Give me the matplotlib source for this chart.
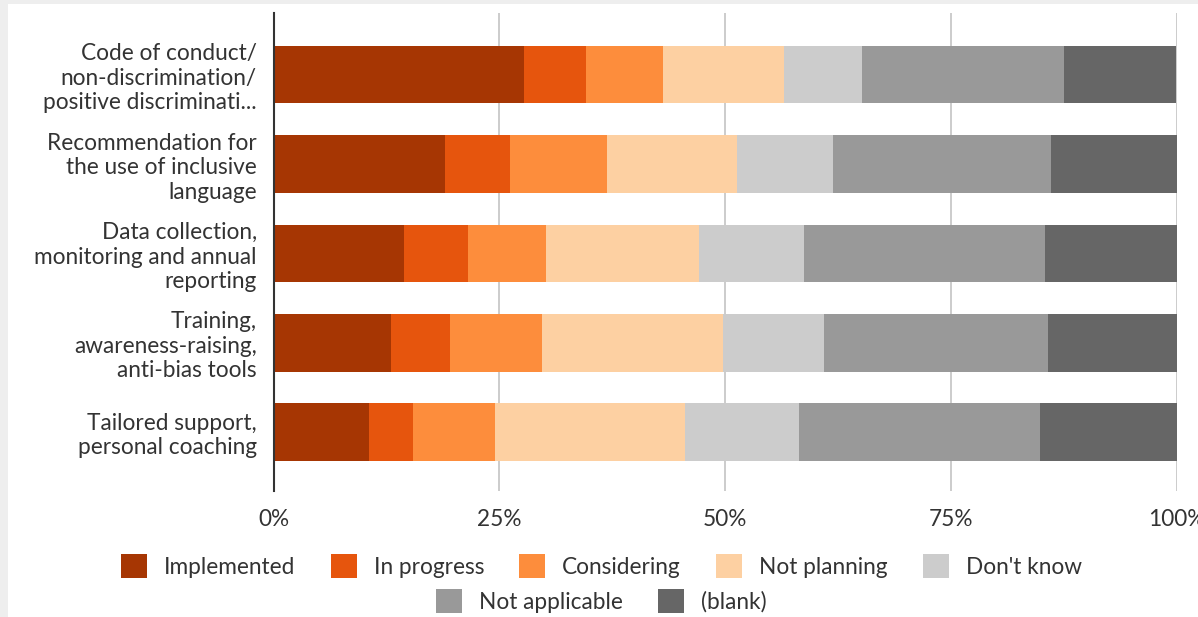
import numpy as np
import matplotlib
matplotlib.use("Agg")
import matplotlib.pyplot as plt
from matplotlib.patches import Rectangle

# ---------------------------------------------------------
# data (percent of respondents per measure)

categories = [
    "Code of conduct/\nnon-discrimination/\npositive discriminati...",
    "Recommendation for\nthe use of inclusive\nlanguage",
    "Data collection,\nmonitoring and annual\nreporting",
    "Training,\nawareness-raising,\nanti-bias tools",
    "Tailored support,\npersonal coaching",
]

implemented = [27.7, 19.0, 14.5, 13.0, 10.6]
in_progress = [6.9, 7.2, 7.0, 6.5, 4.9]
considering = [8.5, 10.7, 8.7, 10.2, 9.0]
not_planning = [13.4, 14.4, 16.9, 20.1, 21.1]
dont_know = [8.7, 10.7, 11.6, 11.2, 12.6]
not_applicable = [22.3, 24.1, 26.7, 24.8, 26.7]
blank = [12.5, 13.9, 14.6, 14.2, 15.1]

series_names = ["Implemented", "In progress", "Considering", "Not planning",
                "Don't know", "Not applicable", "(blank)"]
colors = ["#a63603", "#e6550d", "#fd8d3c", "#fdd0a2",
          "#cccccc", "#999999", "#666666"]

xticks = [0, 25, 50, 75, 100]
xtick_labels = ["0%", "25%", "50%", "75%", "100%"]

# ---------------------------------------------------------

plt.rcParams["font.family"] = ["Lato", "DejaVu Sans"]
text_color = "#333333"
fsize = 16.3

fig = plt.figure(figsize=(11.98, 6.17), dpi=100)
fig.patch.set_facecolor("white")

# light grey frame on the top and left edge
fig.patches.append(Rectangle((0, 0), 8 / 1198, 1, transform=fig.transFigure,
                             facecolor="#eeeeee", edgecolor="none", zorder=0))
fig.patches.append(Rectangle((0, 1 - 4 / 617), 1, 4 / 617, transform=fig.transFigure,
                             facecolor="#eeeeee", edgecolor="none", zorder=0))

ax = fig.add_axes([273.5 / 1198, 1 - 491 / 617, 903 / 1198, 478 / 617])

values = np.array([implemented, in_progress, considering, not_planning,
                   dont_know, not_applicable, blank], dtype=float)
values = values / values.sum(axis=0) * 100

y = np.arange(len(categories))
left = np.zeros(len(categories))
handles = []
for name, vals, col in zip(series_names, values, colors):
    bars = ax.barh(y, vals, left=left, height=0.645, color=col,
                   edgecolor="none", label=name, zorder=3)
    handles.append(bars)
    left = left + vals

ax.set_xlim(0, 100)
ax.set_ylim(4.66, -0.69)
ax.set_yticks(y)
ax.set_yticklabels(categories, fontsize=fsize, color=text_color,
                   multialignment="right", linespacing=1.2)
ax.set_xticks(xticks)
ax.set_xticklabels(xtick_labels, fontsize=fsize, color=text_color)
ax.tick_params(axis="both", length=0)
ax.tick_params(axis="y", pad=12)
ax.tick_params(axis="x", pad=13)

ax.grid(axis="x", color="#cccccc", linewidth=1.4, zorder=0)
for side in ["top", "right", "bottom"]:
    ax.spines[side].set_visible(False)
ax.spines["left"].set_color("#333333")
ax.spines["left"].set_linewidth(1.5)
ax.spines["left"].set_zorder(4)

# legend in two centred rows
leg_opts = dict(loc="center", frameon=False, handlelength=1.15, handleheight=1.2,
                handletextpad=0.75, columnspacing=1.55, borderpad=0,
                prop={"size": fsize}, labelcolor=text_color)
leg1 = fig.legend(handles[:5], series_names[:5], ncol=5,
                  bbox_to_anchor=(0.502, 1 - 566 / 617), **leg_opts)
leg2 = fig.legend(handles[5:], series_names[5:], ncol=2,
                  bbox_to_anchor=(0.502, 1 - 601 / 617), **leg_opts)

fig.savefig("out.png", dpi=100, facecolor=fig.get_facecolor())
